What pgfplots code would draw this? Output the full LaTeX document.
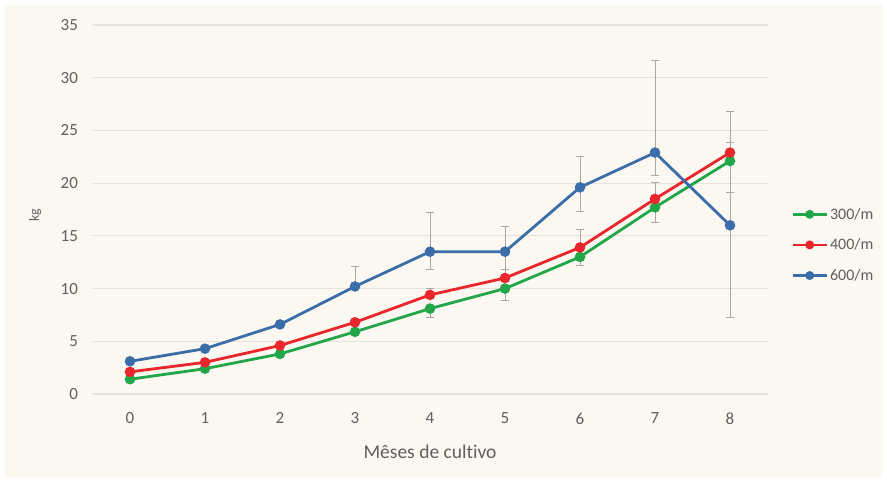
\documentclass[border=0pt]{standalone}
\usepackage{pgfplots}
\pgfplotsset{compat=1.18}
\usepackage{fontspec}
\setmainfont{Carlito}[Ligatures=NoCommon]

\definecolor{bgcream}{HTML}{FBF7F1}
\definecolor{gridc}{HTML}{E7E2DB}
\definecolor{txtgray}{HTML}{606060}
\definecolor{errgray}{HTML}{A8A8A8}
\definecolor{s300}{HTML}{22A64A}
\definecolor{s400}{HTML}{E8262B}
\definecolor{s600}{HTML}{3B6EA8}

\begin{document}
\begin{tikzpicture}[x=1pt,y=1pt]
\fill[white] (0,0) rectangle (887,482);
\fill[bgcream] (5,4) rectangle (882,477);
\begin{axis}[
  at={(92.5pt,88pt)}, anchor=south west,
  scale only axis, width=675pt, height=369pt,
  xmin=-0.5, xmax=8.5, ymin=0, ymax=35,
  xtick={0,...,8}, ytick={0,5,...,35},
  axis line style={draw=none},
  major tick length=0pt,
  ymajorgrids, grid style={color=gridc, line width=1.2pt},
  /pgf/number format/assume math mode=true,
  tick label style={font=\fontsize{17}{20}\selectfont, text=txtgray},
  yticklabel style={xshift=-11pt},
  xticklabel style={yshift=-15pt},
  xlabel={Mêses de cultivo},
  xlabel style={at={(axis description cs:0.5,-0.157)}, anchor=center,
    font=\fontsize{19.5}{23}\selectfont, text=txtgray},
  ylabel={kg},
  ylabel style={at={(axis description cs:-0.085,0.485)}, anchor=center,
    font=\fontsize{14}{16}\selectfont, text=txtgray},
  legend style={at={(1.035,0.404)}, anchor=west, draw=none, fill=none,
    font=\fontsize{16}{19}\selectfont, text=txtgray,
    row sep=14pt, inner sep=0pt},
  legend cell align=left,
  legend image code/.code={
    \draw[#1, mark size=3pt, mark repeat=2, mark phase=2]
      plot coordinates {(0pt,0pt) (17pt,0pt) (34pt,0pt)};},
  every axis plot/.append style={line width=2.8pt, mark=*, mark size=3.8pt},
  error bars/y dir=both, error bars/y explicit,
  error bars/error bar style={color=errgray, line width=1pt},
  error bars/error mark options={rotate=90, mark size=4pt, line width=1pt, color=errgray},
]
% 300 plants per metre
\addplot[color=s300, mark options={fill=s300}] coordinates {
  (0,1.4) += (0,0) -= (0,0)
  (1,2.4) += (0,0) -= (0,0)
  (2,3.8) += (0,0) -= (0,0)
  (3,5.9) += (0,0) -= (0,0)
  (4,8.1) += (0,0) -= (0,0.8)
  (5,10.0) += (0,0) -= (0,1.1)
  (6,13.0) += (0,0) -= (0,0.8)
  (7,17.7) += (0,0) -= (0,1.4)
  (8,22.1) += (0,1.8) -= (0,3.0)
};
\addlegendentry{300/m}
% 400 plants per metre
\addplot[color=s400, mark options={fill=s400}] coordinates {
  (0,2.1) += (0,0) -= (0,0)
  (1,3.0) += (0,0) -= (0,0)
  (2,4.6) += (0,0) -= (0,0)
  (3,6.8) += (0,0) -= (0,0)
  (4,9.4) += (0,0.6) -= (0,0)
  (5,11.0) += (0,0.8) -= (0,0)
  (6,13.9) += (0,1.7) -= (0,0)
  (7,18.5) += (0,1.6) -= (0,0)
  (8,22.9) += (0,1.0) -= (0,0)
};
\addlegendentry{400/m}
% 600 plants per metre
\addplot[color=s600, mark options={fill=s600}] coordinates {
  (0,3.1) += (0,0) -= (0,0)
  (1,4.3) += (0,0) -= (0,0)
  (2,6.6) += (0,0) -= (0,0)
  (3,10.2) += (0,1.9) -= (0,0)
  (4,13.5) += (0,3.7) -= (0,1.7)
  (5,13.5) += (0,2.4) -= (0,1.7)
  (6,19.6) += (0,2.9) -= (0,2.3)
  (7,22.9) += (0,8.7) -= (0,2.2)
  (8,16.0) += (0,10.8) -= (0,8.7)
};
\addlegendentry{600/m}
\end{axis}
\end{tikzpicture}
\end{document}
